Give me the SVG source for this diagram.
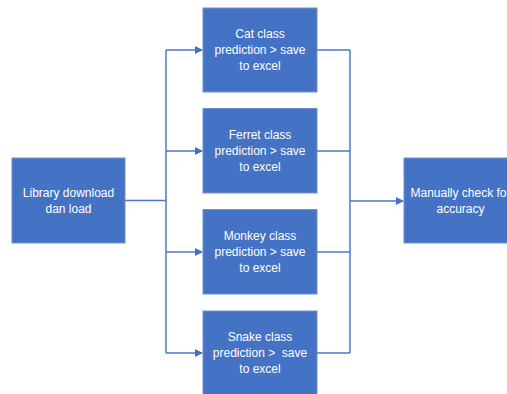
<svg xmlns="http://www.w3.org/2000/svg" width="507" height="394" viewBox="0 0 507 394">
<style>
.box{fill:#4472C4;stroke:#7090cf;stroke-width:1}
.t{font-family:"Liberation Sans",Arial,sans-serif;font-size:12px;fill:#ffffff;text-anchor:middle;white-space:pre}
.c{fill:none;stroke:#4a78c8;stroke-width:1.5}
</style>
<defs>
<marker id="ah" markerWidth="8" markerHeight="8" refX="7" refY="4" orient="auto" markerUnits="userSpaceOnUse">
<path d="M0,0 L8,4 L0,8 Z" fill="#4472C4"/>
</marker>
</defs>
<rect width="507" height="394" fill="#ffffff"/>
<g id="connectors">
<path class="c" d="M125,200.5 H166"/>
<path class="c" d="M166,50 V353"/>
<path class="c" d="M166,50 H202" marker-end="url(#ah)"/>
<path class="c" d="M166,151 H202" marker-end="url(#ah)"/>
<path class="c" d="M166,252 H202" marker-end="url(#ah)"/>
<path class="c" d="M166,353 H202" marker-end="url(#ah)"/>
<path class="c" d="M317,50 H350"/>
<path class="c" d="M317,151 H350"/>
<path class="c" d="M317,252 H350"/>
<path class="c" d="M317,353 H350"/>
<path class="c" d="M350,50 V353"/>
<path class="c" d="M350,201 H403" marker-end="url(#ah)"/>
</g>
<g id="library">
<rect class="box" x="12" y="158" width="113" height="85"/>
<text class="t" x="68.5" y="197">Library download</text>
<text class="t" x="68.5" y="212.5">dan load</text>
</g>
<g id="cat">
<rect class="box" x="203" y="8" width="114" height="84"/>
<text class="t" x="260" y="38">Cat class</text>
<text class="t" x="260" y="54">prediction &gt; save</text>
<text class="t" x="260" y="70">to excel</text>
</g>
<g id="ferret">
<rect class="box" x="203" y="108.5" width="114" height="84.5"/>
<text class="t" x="260" y="139">Ferret class</text>
<text class="t" x="260" y="155">prediction &gt; save</text>
<text class="t" x="260" y="171">to excel</text>
</g>
<g id="monkey">
<rect class="box" x="203" y="209.5" width="114" height="84.5"/>
<text class="t" x="260" y="240">Monkey class</text>
<text class="t" x="260" y="256">prediction &gt; save</text>
<text class="t" x="260" y="272">to excel</text>
</g>
<g id="snake">
<rect class="box" x="203" y="311" width="114" height="86"/>
<text class="t" x="260" y="341">Snake class</text>
<text class="t" x="260" y="357">prediction &gt;  save</text>
<text class="t" x="260" y="373">to excel</text>
</g>
<g id="manual">
<rect class="box" x="404" y="158" width="113" height="85"/>
<text class="t" x="460.5" y="197">Manually check for</text>
<text class="t" x="460.5" y="212.5">accuracy</text>
</g>
</svg>
